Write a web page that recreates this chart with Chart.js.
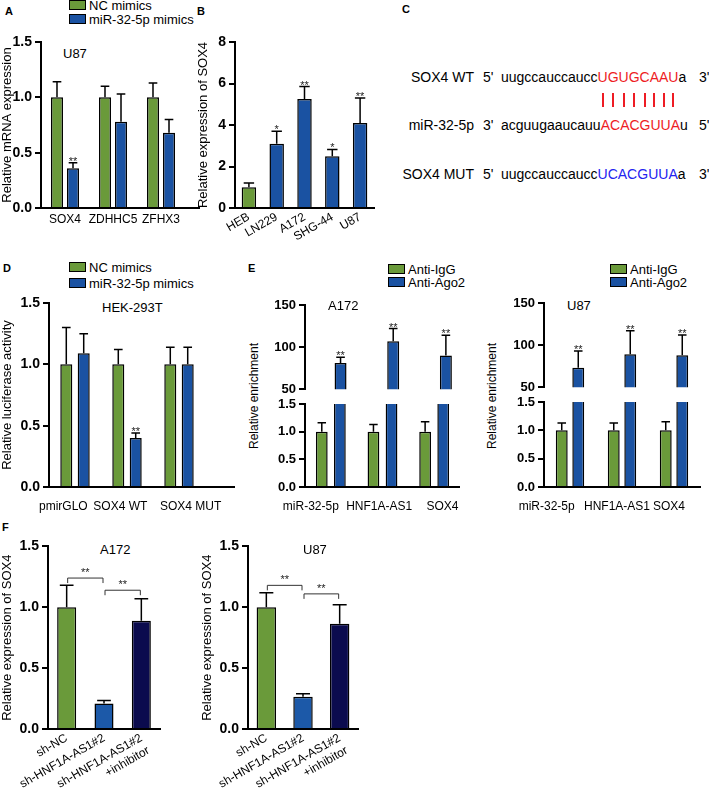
<!DOCTYPE html>
<html>
<head>
<meta charset="utf-8">
<script src="https://cdn.jsdelivr.net/npm/chart.js@4.4.0/dist/chart.umd.min.js"></script>
<style>
  body { margin: 0; background: #fff; font-family: "Liberation Sans", Arial, sans-serif; }
  #fig { position: relative; width: 709px; height: 794px; overflow: hidden; background: #fff; }
  #fig canvas { position: absolute; }
  .t { position: absolute; white-space: nowrap; color: #000; line-height: 1; transform: translateY(-50%); }
  .letter { font-weight: bold; font-size: 11px; }
  .sw { position: absolute; width: 15px; height: 8px; border: 1px solid #000; }
  .vt { position: absolute; white-space: nowrap; font-size: 12px; line-height: 1; transform: translate(-50%, -50%) rotate(-90deg); }
</style>
</head>
<body>
<div id="fig"></div>
<script>
// ---- data ----
// A: U87, relative mRNA expression
const aCats = ['SOX4', 'ZDHHC5', 'ZFHX3'];
const aNC = [1.0, 1.0, 1.0];
const aNCErr = [1.14, 1.10, 1.13];
const aMiR = [0.36, 0.78, 0.68];
const aMiRErr = [0.41, 1.03, 0.80];
const aMiRStars = ['**', '', ''];

// B: SOX4 in cell lines
const bCats = ['HEB', 'LN229', 'A172', 'SHG-44', 'U87'];
const bVals = [1.0, 3.1, 5.25, 2.5, 4.1];
const bErr = [1.2, 3.7, 5.85, 2.82, 5.3];
const bStars = ['', '*', '**', '*', '**'];

// D: luciferase, HEK-293T
const dCats = ['pmirGLO', 'SOX4 WT', 'SOX4 MUT'];
const dNC = [1.0, 1.0, 1.0];
const dNCErr = [1.30, 1.12, 1.14];
const dMiR = [1.09, 0.40, 1.0];
const dMiRErr = [1.25, 0.44, 1.14];
const dMiRStars = ['', '**', ''];

// E: RIP enrichment
const eCats = ['miR-32-5p', 'HNF1A-AS1', 'SOX4'];
const eA172IgG = [1.0, 1.0, 1.0];
const eA172IgGErr = [1.16, 1.13, 1.18];
const eA172Ago = [81, 107, 90];
const eA172AgoErr = [88, 122, 114];
const eU87IgG = [1.0, 1.0, 1.0];
const eU87IgGErr = [1.13, 1.13, 1.15];
const eU87Ago = [73, 89, 88];
const eU87AgoErr = [93, 117, 112];
const eStars = ['**', '**', '**'];

// F: SOX4 after knockdown
const fCats = ['sh-NC', 'sh-HNF1A-AS1#2', ['sh-HNF1A-AS1#2', '+inhibitor']];
const fA172 = [1.0, 0.21, 0.89];
const fA172Err = [1.18, 0.235, 1.07];
const fU87 = [1.0, 0.265, 0.865];
const fU87Err = [1.12, 0.29, 1.02];
const fA172Brackets = [[0, 1, 1.24], [1, 2, 1.14]];
const fU87Brackets = [[0, 1, 1.18], [1, 2, 1.11]];

const FONT = '"Liberation Sans", Arial, sans-serif';
const GREEN = '#6a9a3a';
const BLUE = '#1a52a2';
const BLUE2 = '#1c59a8';
const NAVY = '#0b0b4e';

Chart.defaults.font.family = FONT;
Chart.defaults.color = '#000';

// error bars + stars
Chart.register({
  id: 'errBars',
  afterDatasetsDraw(chart) {
    const ctx = chart.ctx;
    chart.data.datasets.forEach((ds, di) => {
      if (!ds.err) return;
      const meta = chart.getDatasetMeta(di);
      const ys = chart.scales[meta.yAxisID];
      meta.data.forEach((bar, i) => {
        const e = ds.err[i];
        if (e == null) return;
        const top = ys.getPixelForValue(e);
        const half = bar.width * 0.36;
        ctx.save();
        ctx.strokeStyle = '#000';
        ctx.lineWidth = 1.5;
        ctx.beginPath();
        ctx.moveTo(bar.x, bar.y);
        ctx.lineTo(bar.x, top);
        ctx.moveTo(bar.x - half, top);
        ctx.lineTo(bar.x + half, top);
        ctx.stroke();
        if (ds.stars && ds.stars[i]) {
          ctx.fillStyle = '#222';
          ctx.font = '11px ' + FONT;
          ctx.textAlign = 'center';
          ctx.fillText(ds.stars[i], bar.x, top + 2);
        }
        ctx.restore();
      });
    });
  }
});

// significance brackets
Chart.register({
  id: 'sig',
  afterDatasetsDraw(chart, args, opts) {
    if (!opts || !opts.items) return;
    const xs = chart.scales.x, ys = chart.scales.y, ctx = chart.ctx;
    opts.items.forEach(([a, b, v]) => {
      const x1 = xs.getPixelForValue(a) + 1;
      const x2 = xs.getPixelForValue(b) - 1;
      const y = ys.getPixelForValue(v);
      ctx.save();
      ctx.strokeStyle = '#333';
      ctx.lineWidth = 1;
      ctx.beginPath();
      ctx.moveTo(x1, y + 5); ctx.lineTo(x1, y); ctx.lineTo(x2, y); ctx.lineTo(x2, y + 5);
      ctx.stroke();
      ctx.fillStyle = '#222';
      ctx.font = '11px ' + FONT;
      ctx.textAlign = 'center';
      ctx.fillText('**', (x1 + x2) / 2, y - 2);
      ctx.restore();
    });
  }
});

// x axis line longer than the categories
Chart.register({
  id: 'axisExt',
  afterDraw(chart, args, opts) {
    if (!opts || !opts.to) return;
    const a = chart.chartArea, ctx = chart.ctx;
    ctx.save();
    ctx.strokeStyle = '#000';
    ctx.lineWidth = 2;
    ctx.beginPath();
    ctx.moveTo(a.right - 1, a.bottom);
    ctx.lineTo(opts.to, a.bottom);
    ctx.stroke();
    ctx.restore();
  }
});

const fig = document.getElementById('fig');

function txt(x, y, s, css) {
  const d = document.createElement('div');
  d.className = 't';
  d.style.left = x + 'px';
  d.style.top = y + 'px';
  d.style.cssText += css || '';
  d.textContent = s;
  fig.appendChild(d);
  return d;
}

function vtitle(cx, cy, s, size) {
  const d = document.createElement('div');
  d.className = 'vt';
  d.style.left = cx + 'px';
  d.style.top = cy + 'px';
  if (size) d.style.fontSize = size + 'px';
  d.textContent = s;
  fig.appendChild(d);
}

function legend(x, y, gap, items) {
  items.forEach(([label, color], i) => {
    const s = document.createElement('div');
    s.className = 'sw';
    s.style.left = x + 'px';
    s.style.top = (y + i * gap - 5) + 'px';
    s.style.background = color;
    fig.appendChild(s);
    txt(x + 20, y + i * gap, label, 'font-size:13px;');
  });
}

// nudge a centred tick label sideways by dx px (12px font, space = 3.33px)
function nudge(labels, dxs) {
  return labels.map((s, i) => {
    const n = Math.round(Math.abs(dxs[i]) / 1.67);
    const sp = ' '.repeat(n);
    return dxs[i] < 0 ? s + sp : sp + s;
  });
}

function bar(label, data, err, stars, color) {
  return { label, data, err, stars, backgroundColor: color, borderColor: '#000', borderWidth: 1.5, clip: 0 };
}

function yAxis(min, max, step, title, dec, size) {
  return {
    min, max,
    ticks: {
      stepSize: step, padding: 3, color: '#000',
      font: { size: size || 14, weight: 'bold' },
      callback: v => dec ? Number(v).toFixed(dec) : v
    },
    grid: { display: true, drawOnChartArea: false, drawTicks: true, tickLength: 6, color: '#000', lineWidth: 2 },
    border: { display: true, color: '#000', width: 2 },
    title: { display: !!title, text: title || '', color: '#000', font: { size: 13 }, padding: 0 }
  };
}

function xAxis(rot, pad) {
  return {
    grid: { display: false, drawTicks: false },
    border: { display: true, color: '#000', width: 2 },
    ticks: { autoSkip: false, maxRotation: rot, minRotation: rot, padding: pad, color: '#000', font: { size: 12 } }
  };
}

function opts(x, y, catPct, barPct, plugins) {
  return {
    responsive: false,
    animation: false,
    devicePixelRatio: 1,
    plugins: Object.assign({ legend: { display: false }, tooltip: { enabled: false } }, plugins || {}),
    datasets: { bar: { categoryPercentage: catPct, barPercentage: barPct } },
    scales: { x, y }
  };
}

// box: canvas rect on the page, area: wanted chart area on the page, xh: x axis height
function makeChart(box, area, xh, cfg, xEnd) {
  const c = document.createElement('canvas');
  c.width = box.w; c.height = box.h;
  c.style.left = box.x + 'px';
  c.style.top = box.y + 'px';
  c.style.width = box.w + 'px';
  c.style.height = box.h + 'px';
  fig.appendChild(c);
  const o = cfg.options;
  o.layout = { padding: {
    left: 0,
    top: area.t - box.y,
    right: box.x + box.w - area.r,
    bottom: box.y + box.h - area.b - xh
  } };
  o.scales.y.afterFit = s => { s.width = area.l - box.x; };
  o.scales.x.afterFit = s => { s.height = xh; };
  if (xEnd) o.plugins.axisExt = { to: xEnd - box.x };
  return new Chart(c, cfg);
}

// ---- panel letters ----
txt(5, 11, 'A').className += ' letter';
txt(197, 11, 'B').className += ' letter';
txt(402, 9, 'C').className += ' letter';
txt(3, 268, 'D').className += ' letter';
txt(248, 268, 'E').className += ' letter';
txt(2, 527, 'F').className += ' letter';

// ---- A ----
legend(69, 5, 14, [['NC mimics', GREEN], ['miR-32-5p mimics', BLUE]]);
txt(63, 53, 'U87', 'font-size:13px;');
makeChart({ x: 0, y: 30, w: 230, h: 200 }, { l: 41, t: 42, r: 185, b: 208 }, 22, {
  type: 'bar',
  data: { labels: aCats, datasets: [
    bar('NC mimics', aNC, aNCErr, null, GREEN),
    bar('miR-32-5p mimics', aMiR, aMiRErr, aMiRStars, BLUE)
  ] },
  options: opts(xAxis(0, 4), yAxis(0, 1.5, 0.5, 'Relative mRNA expression', 1), 0.667, 0.75)
}, 200);

// ---- B ----
makeChart({ x: 196, y: 30, w: 200, h: 215 }, { l: 235, t: 42, r: 374, b: 208 }, 37, {
  type: 'bar',
  data: { labels: bCats, datasets: [
    bar('SOX4', bVals, bErr, bStars, [GREEN, BLUE, BLUE, BLUE, BLUE])
  ] },
  options: opts(xAxis(30, 2), yAxis(0, 8, 2, 'Relative expression of SOX4', 0), 1, 0.52)
});

// ---- C ----
const cRows = [
  { name: 'SOX4 WT', p1: "5'", seq: 'uugccauccaucc', core: 'UGUGCAAU', tail: 'a', p2: "3'", color: '#ee1c24', y: 77 },
  { name: 'miR-32-5p', p1: "3'", seq: 'acguugaaucauu', core: 'ACACGUUA', tail: 'u', p2: "5'", color: '#ee1c24', y: 125 },
  { name: 'SOX4 MUT', p1: "5'", seq: 'uugccauccaucc', core: 'UCACGUUA', tail: 'a', p2: "3'", color: '#2323f0', y: 174 }
];
let coreSpans = [];
cRows.forEach((r, ri) => {
  const n = txt(0, r.y, r.name, 'font-size:14px;');
  n.style.left = 'auto';
  n.style.right = (709 - 474) + 'px';
  txt(483, r.y, r.p1, 'font-size:14px;');
  const s = txt(501, r.y, '', 'font-size:14px;');
  s.appendChild(document.createTextNode(r.seq));
  const spans = [];
  for (const ch of r.core) {
    const sp = document.createElement('span');
    sp.style.color = r.color;
    sp.textContent = ch;
    s.appendChild(sp);
    spans.push(sp);
  }
  s.appendChild(document.createTextNode(r.tail));
  txt(699, r.y, r.p2, 'font-size:14px;');
  if (ri === 0) coreSpans = spans;
});
const figRect = fig.getBoundingClientRect();
coreSpans.forEach(sp => {
  const rc = sp.getBoundingClientRect();
  const l = document.createElement('div');
  l.style.cssText = 'position:absolute;width:2px;height:14px;background:#ee1c24;top:93px;';
  l.style.left = (rc.left - figRect.left + rc.width / 2 - 1) + 'px';
  fig.appendChild(l);
});

// ---- D ----
legend(69, 267, 15.5, [['NC mimics', GREEN], ['miR-32-5p mimics', BLUE]]);
txt(102, 307, 'HEK-293T', 'font-size:13px;');
makeChart({ x: 0, y: 290, w: 245, h: 230 }, { l: 49, t: 303, r: 205, b: 487 }, 33, {
  type: 'bar',
  data: { labels: nudge(dCats, [-12, -6, 12]), datasets: [
    bar('NC mimics', dNC, dNCErr, null, GREEN),
    bar('miR-32-5p mimics', dMiR, dMiRErr, dMiRStars, BLUE)
  ] },
  options: opts(xAxis(0, 12), yAxis(0, 1.5, 0.5, 'Relative luciferase activity', 1), 0.67, 0.69)
}, 235);

// ---- E (broken y axis: upper 50-150, lower 0-1.5) ----
function ePanel(x0, axL, axR, upT, upB, loT, ipIgG, ipIgGErr, ipAgo, ipAgoErr, cat, bp, shifts) {
  const nulls = ipAgo.map(() => null);
  makeChart({ x: x0, y: 290, w: axR + 9 - x0, h: upB + 10 - 290 }, { l: axL, t: upT, r: axR, b: upB }, 0, {
    type: 'bar',
    data: { labels: eCats, datasets: [
      bar('Anti-IgG', nulls, null, null, GREEN),
      bar('Anti-Ago2', ipAgo, ipAgoErr, eStars, BLUE)
    ] },
    options: opts({ display: false }, yAxis(50, 150, 50, '', 0, 13), cat, bp)
  });
  makeChart({ x: x0, y: loT - 12, w: axR + 9 - x0, h: 527 - (loT - 12) }, { l: axL, t: loT, r: axR, b: 487 }, 40, {
    type: 'bar',
    data: { labels: nudge(eCats, shifts), datasets: [
      bar('Anti-IgG', ipIgG, ipIgGErr, null, GREEN),
      bar('Anti-Ago2', ipAgo, null, null, BLUE)
    ] },
    options: opts(xAxis(0, 12), yAxis(0, 1.5, 0.5, '', 1, 13), cat, bp)
  });
}
legend(388, 268.5, 13, [['Anti-IgG', GREEN], ['Anti-Ago2', BLUE]]);
txt(328, 305, 'A172', 'font-size:13px;');
vtitle(254, 396, 'Relative enrichment');
ePanel(245, 305, 463, 305, 390, 404, eA172IgG, eA172IgGErr, eA172Ago, eA172AgoErr, 0.70, 0.65, [-20, -4, 8]);

legend(610, 268.5, 13, [['Anti-IgG', GREEN], ['Anti-Ago2', BLUE]]);
txt(567, 305, 'U87', 'font-size:13px;');
vtitle(492, 396, 'Relative enrichment');
ePanel(485, 544, 700, 303, 388, 402, eU87IgG, eU87IgGErr, eU87Ago, eU87AgoErr, 0.635, 0.72, [-24, -5, -5]);

// ---- F ----
txt(100, 549, 'A172', 'font-size:13px;');
makeChart({ x: 0, y: 535, w: 200, h: 259 }, { l: 48, t: 545, r: 160, b: 729 }, 65, {
  type: 'bar',
  data: { labels: fCats, datasets: [
    bar('A172', fA172, fA172Err, null, [GREEN, BLUE2, NAVY])
  ] },
  options: opts(xAxis(30, 2), yAxis(0, 1.5, 0.5, 'Relative expression of SOX4', 1), 1, 0.51, { sig: { items: fA172Brackets } })
});

txt(303, 549, 'U87', 'font-size:13px;');
makeChart({ x: 200, y: 535, w: 200, h: 259 }, { l: 248, t: 545, r: 358, b: 729 }, 65, {
  type: 'bar',
  data: { labels: fCats, datasets: [
    bar('U87', fU87, fU87Err, null, [GREEN, BLUE2, NAVY])
  ] },
  options: opts(xAxis(30, 2), yAxis(0, 1.5, 0.5, 'Relative expression of SOX4', 1), 1, 0.53, { sig: { items: fU87Brackets } })
});
</script>
</body>
</html>
